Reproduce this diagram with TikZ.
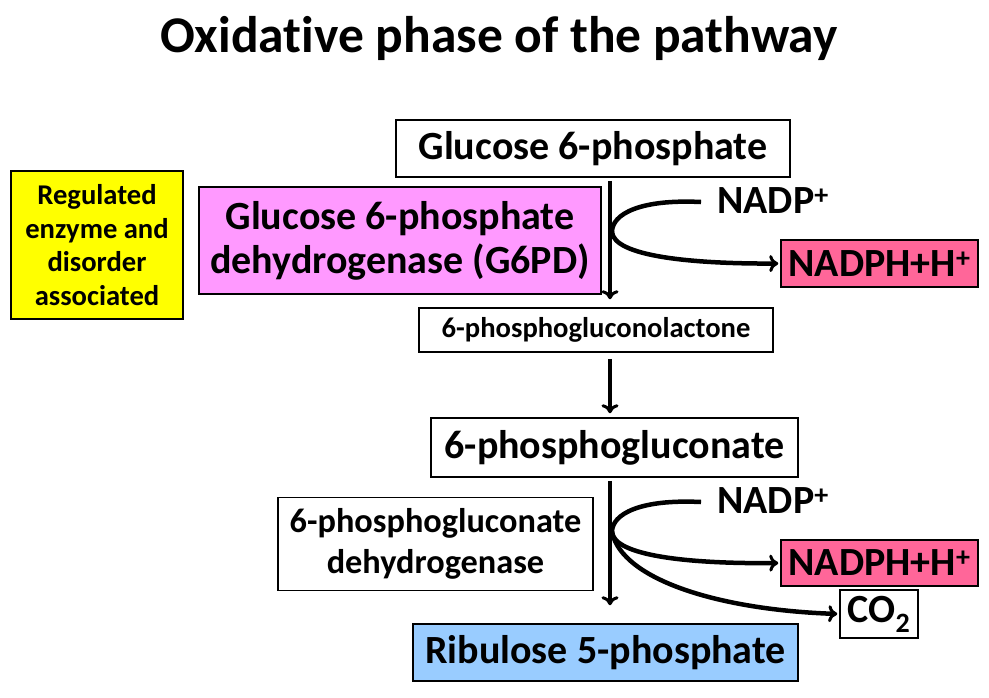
\documentclass[tikz,border=0pt]{standalone}
\usepackage{fontspec}
\setmainfont{Carlito}[Ligatures=CommonOff]
\usetikzlibrary{arrows.meta}
\definecolor{pinkA}{HTML}{FF99FF}
\definecolor{pinkB}{HTML}{FF6699}
\definecolor{blueA}{HTML}{99CCFF}
\definecolor{yellowA}{HTML}{FFFF00}
\tikzset{
  box/.style={draw=black, line width=1.5pt, inner sep=0pt, align=center, font=\bfseries\fontsize{40}{46}\selectfont},
  lbl/.style={inner sep=0pt, font=\bfseries\fontsize{40}{46}\selectfont},
  flow/.style={line width=4.5pt, -{To[length=9pt,width=17pt,line width=3pt]}},
  curveline/.style={line width=4.5pt},
}
\begin{document}
\begin{tikzpicture}[x=1pt,y=-1pt]
\useasboundingbox (0,0) rectangle (989,697);
\node[inner sep=0pt, font=\bfseries\fontsize{51.5}{60}\selectfont] (title) at (499,38) {Oxidative phase of the pathway};

\node[box, minimum width=394, minimum height=57] (g6p) at (593,148.5) {Glucose 6-phosphate};
\node[box, fill=pinkA, minimum width=402, minimum height=107, font=\bfseries\fontsize{40}{44}\selectfont] (g6pd) at (400,240.5) {Glucose 6-phosphate\\dehydrogenase (G6PD)};
\node[box, fill=yellowA, minimum width=172, minimum height=148, font=\bfseries\fontsize{28.6}{33.5}\selectfont] (reg) at (97,245) {Regulated\\enzyme and\\disorder\\associated};
\node[lbl] (nadp1) at (773,201) {NADP\textsuperscript{+}};
\node[box, fill=pinkB, minimum width=197, minimum height=47] (nadph1) at (879.5,263.5) {NADPH+H\textsuperscript{+}};
\node[box, minimum width=354, minimum height=44, font=\bfseries\fontsize{28.6}{33}\selectfont] (pgl) at (596,330) {6-phosphogluconolactone};
\node[box, minimum width=367, minimum height=59] (pg) at (614.5,447.5) {6-phosphogluconate};
\node[box, minimum width=315, minimum height=93, font=\bfseries\fontsize{34.3}{41}\selectfont] (pgd) at (435.5,544) {6-phosphogluconate\\dehydrogenase};
\node[lbl] (nadp2) at (773,501) {NADP\textsuperscript{+}};
\node[box, fill=pinkB, minimum width=197, minimum height=46] (nadph2) at (879.5,563) {NADPH+H\textsuperscript{+}};
\node[box, minimum width=78, minimum height=48] (co2) at (879,614) {CO\textsubscript{2}};
\node[box, fill=blueA, minimum width=385, minimum height=57] (ru5p) at (605.5,652.5) {Ribulose 5-phosphate};

\coordinate (v1) at (612,232);
\coordinate (v2) at (612,532);

\draw[flow, shorten <=3pt, shorten >=8pt] ([xshift=17pt]g6p.south) -- ([xshift=14pt]pgl.north);
\draw[flow, shorten <=6pt, shorten >=4pt] ([xshift=14pt]pgl.south) -- ([xshift=-4.5pt]pg.north);
\draw[flow, shorten <=3pt, shorten >=18pt] ([xshift=-4.5pt]pg.south) -- ([xshift=4.5pt]ru5p.north);

\draw[curveline] ([xshift=-16pt,yshift=-1pt]nadp1.west) .. controls (640,199) and (612,214) .. (v1);
\draw[flow, shorten >=2pt] (v1) .. controls (614,256) and (690,264) .. (nadph1.west);

\draw[curveline] ([xshift=-16pt,yshift=-1pt]nadp2.west) .. controls (640,499) and (612,514) .. (v2);
\draw[flow, shorten >=2pt] (v2) .. controls (614,556) and (690,564) .. (nadph2.west);
\draw[flow, shorten >=2pt] (v2) .. controls (622,580) and (720,610) .. (co2.west);
\end{tikzpicture}
\end{document}
